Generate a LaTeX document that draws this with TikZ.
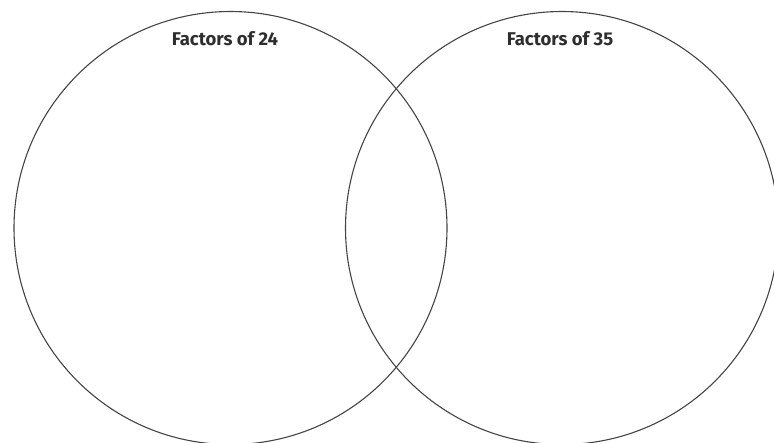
\documentclass[tikz,border=0pt]{standalone}
\usepackage{fontspec}
\setmainfont{Fira Sans}
\definecolor{ink}{HTML}{2E2E2E}
\definecolor{edge}{HTML}{444444}
\begin{document}
\begin{tikzpicture}[x=1pt,y=-1pt,
  setcircle/.style={draw=edge,line width=1.1pt,circle,minimum size=433pt,inner sep=0pt},
  title/.style={font=\fontsize{18.5}{21}\selectfont\bfseries,text=ink,anchor=base,inner sep=0pt}]
\useasboundingbox (0,0) rectangle (774,442);
\node[setcircle] (A) at (230.5,228) {};
\node[setcircle] (B) at (562,228) {};
\node[title] (ta) at (225,45) {Factors of 24};
\node[title] (tb) at (560,45) {Factors of 35};
\end{tikzpicture}
\end{document}
